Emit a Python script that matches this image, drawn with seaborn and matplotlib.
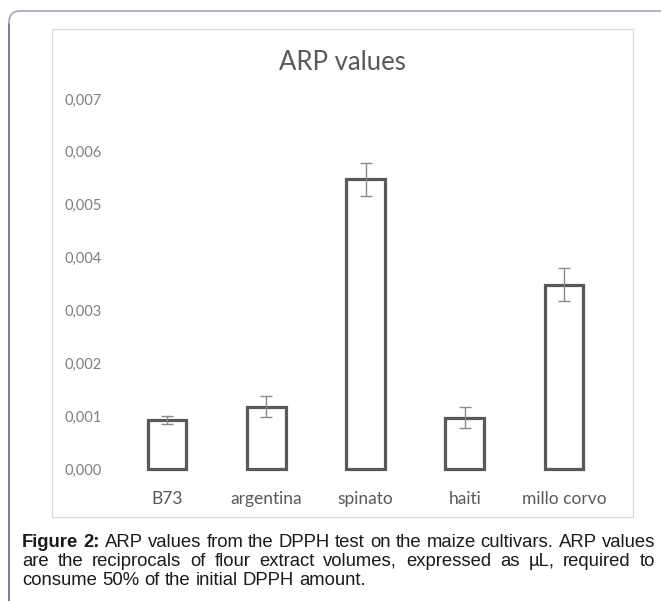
import matplotlib
matplotlib.use("Agg")
import matplotlib.pyplot as plt
from matplotlib.patches import FancyBboxPatch, Rectangle
from matplotlib.transforms import IdentityTransform
from matplotlib.lines import Line2D
import seaborn as sns
import pandas as pd

# ARP values (mean and error) for each maize cultivar
cultivars = ["B73", "argentina", "spinato", "haiti", "millo corvo"]
arp_mean = [0.00093, 0.00118, 0.00548, 0.00097, 0.00349]
arp_err = [0.00007, 0.00020, 0.00031, 0.00020, 0.00031]
y_ticks = [0.000, 0.001, 0.002, 0.003, 0.004, 0.005, 0.006, 0.007]
y_tick_labels = ["0,000", "0,001", "0,002", "0,003", "0,004", "0,005", "0,006", "0,007"]

caption_lines = [
    [("Figure", True), ("2:", True), ("ARP", False), ("values", False), ("from", False),
     ("the", False), ("DPPH", False), ("test", False), ("on", False), ("the", False),
     ("maize", False), ("cultivars.", False), ("ARP", False), ("values", False)],
    [("are", False), ("the", False), ("reciprocals", False), ("of", False), ("flour", False),
     ("extract", False), ("volumes,", False), ("expressed", False), ("as", False),
     ("µL,", False), ("required", False), ("to", False)],
    [("consume", False), ("50%", False), ("of", False), ("the", False), ("initial", False),
     ("DPPH", False), ("amount.", False)],
]

df = pd.DataFrame({"cultivar": cultivars, "arp": arp_mean, "err": arp_err})

sns.set_theme(style="white")
plt.rcParams["font.family"] = ["Lato", "DejaVu Sans"]

W, H = 661, 601
DPI = 100
fig = plt.figure(figsize=(W / DPI, H / DPI), dpi=DPI)
fig.patch.set_facecolor("white")

px = IdentityTransform()

# outer rounded frame
frame = FancyBboxPatch((9, -60), 720, H - 11 + 60, boxstyle="round,pad=0,rounding_size=11",
                       transform=px, facecolor="none", edgecolor="#a6a2c8", linewidth=1.2)
fig.add_artist(frame)
fig.add_artist(Line2D([9, 9], [0, H - 24], transform=px, color="#736fa6", linewidth=1.2))

# chart area border
fig.add_artist(Rectangle((52, H - 517), 581, 488, transform=px, facecolor="none",
                         edgecolor="#d9d9d9", linewidth=0.9))

# plotting axes: y=0 at row 469, y=0.007 at row 99; categories centred 167..564
ymin, ymax = -0.0002, 0.0072
ppu = (469 - 99) / 0.007
top_row = 99 - (ymax - 0.007) * ppu
bot_row = 469 + (0 - ymin) * ppu
step = (564 - 167) / 4
left_px = 167 - step / 2
ax = fig.add_axes([left_px / W, (H - bot_row) / H, 5 * step / W, (bot_row - top_row) / H])
ax.set_facecolor("none")

sns.barplot(data=df, x="cultivar", y="arp", ax=ax, color="white", saturation=1,
            edgecolor="#595959", linewidth=2.3, width=0.39, errorbar=None, zorder=2)
ax.errorbar(range(len(cultivars)), arp_mean, yerr=arp_err, fmt="none",
            ecolor="#8a8a8a", elinewidth=1.0, capsize=4.2, capthick=1.0, zorder=3)

ax.set_xlim(-0.5, 4.5)
ax.set_ylim(ymin, ymax)
ax.set_yticks(y_ticks)
ax.set_yticklabels(y_tick_labels)
ax.set_xlabel("")
ax.set_ylabel("")
for s in ax.spines.values():
    s.set_visible(False)
ax.tick_params(axis="y", length=0, pad=11, labelsize=10.5, labelcolor="#7f7f7f")
ax.tick_params(axis="x", length=0, pad=8, labelsize=12.5, labelcolor="#595959")
ax.grid(False)

fig.text(342 / W, 1 - 62 / H, "ARP values", ha="center", va="center",
         fontsize=18.5, color="#595959", fontweight="normal")

# justified caption under the chart
renderer = fig.canvas.get_renderer()
cap_size = 13.3
cap_family = ["Liberation Sans", "DejaVu Sans"]
x0, x1 = 22, 655
baselines = [547, 566, 585]


def word_width(word, bold):
    t = fig.text(0, 0, word, fontsize=cap_size, family=cap_family,
                 fontweight="bold" if bold else "normal", transform=px)
    w = t.get_window_extent(renderer).width
    t.remove()
    return w


space_w = word_width("x x", False) - word_width("xx", False)
for i, words in enumerate(caption_lines):
    widths = [word_width(w, b) for w, b in words]
    justify = i < len(caption_lines) - 1
    gap = (x1 - x0 - sum(widths)) / (len(words) - 1) if justify else space_w
    x = x0
    for (w, b), wd in zip(words, widths):
        fig.text(x, H - baselines[i], w, fontsize=cap_size, family=cap_family,
                 fontweight="bold" if b else "normal", color="#1a1a1a",
                 ha="left", va="baseline", transform=px)
        x += wd + gap

fig.savefig("out.png", dpi=DPI, facecolor="white")
